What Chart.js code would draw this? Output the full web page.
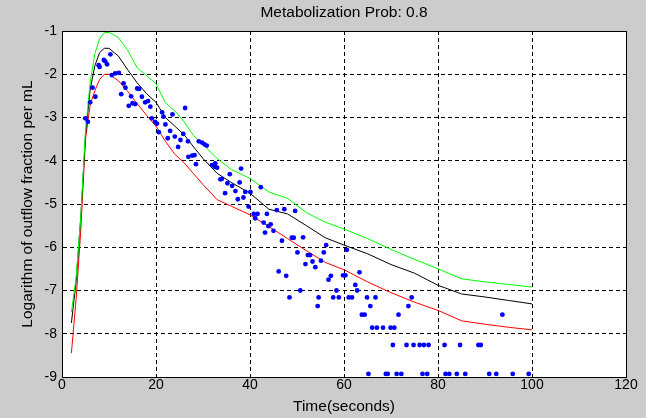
<!DOCTYPE html>
<html>
<head>
<meta charset="utf-8">
<title>Metabolization Prob: 0.8</title>
<script src="https://cdn.jsdelivr.net/npm/chart.js@4.4.1/dist/chart.umd.min.js"></script>
<style>
  html, body { margin:0; padding:0; background:#cccccc; }
  #wrap { width:646px; height:418px; }
</style>
</head>
<body>
<div id="wrap"><canvas id="chart" width="646" height="418"></canvas></div>
<script>
// ---------- data ----------
const xTicks = [0, 20, 40, 60, 80, 100, 120];
const yTicks = [-1, -2, -3, -4, -5, -6, -7, -8, -9];

// simulated curves (upper / mean / lower)
const simTime  = [2, 3, 4, 5, 6, 7, 8, 9, 10, 12, 14, 16, 18, 20, 22, 24, 26, 28, 30, 33, 36, 40, 44, 48, 52, 56, 60, 65, 70, 75, 80, 85, 90, 95, 100];
const upperLog = [-7.5, -6.7, -5.3, -3.3, -2.18, -1.52, -1.18, -1.04, -1.03, -1.15, -1.45, -1.85, -2.03, -2.22, -2.66, -2.85, -3.1, -3.42, -3.62, -3.95, -4.2, -4.41, -4.72, -4.87, -5.2, -5.42, -5.58, -5.8, -6.05, -6.28, -6.5, -6.73, -6.8, -6.86, -6.92];
const meanLog  = [-7.75, -6.8, -5.3, -3.4, -2.35, -1.8, -1.5, -1.4, -1.4, -1.58, -1.9, -2.2, -2.45, -2.65, -3.0, -3.2, -3.4, -3.68, -3.95, -4.29, -4.5, -4.75, -5.12, -5.23, -5.5, -5.78, -5.95, -6.15, -6.4, -6.6, -6.88, -7.08, -7.15, -7.23, -7.31];
const lowerLog = [-8.45, -7.2, -5.6, -3.5, -2.7, -2.38, -2.12, -2.0, -2.0, -2.15, -2.4, -2.68, -2.95, -3.2, -3.55, -3.85, -4.05, -4.3, -4.55, -4.9, -5.05, -5.25, -5.52, -5.8, -6.08, -6.35, -6.52, -6.8, -7.05, -7.27, -7.46, -7.7, -7.78, -7.85, -7.91];

// measured outflow (blue dots)
const obsTime = [
  4.96, 5.5, 6.0, 6.5, 7.1, 7.8, 8.0, 8.9, 9.2, 9.6, 10.3, 10.6, 11.3, 12.1, 12.6, 13.1, 13.5, 14.2, 14.7, 15.0,
  15.6, 16.0, 16.4, 17.0, 17.7, 18.3, 18.8, 19.1, 19.8, 20.2, 20.6, 21.3, 21.6, 22.0, 22.5, 23.0, 23.5, 24.0, 24.7, 25.2,
  25.8, 26.2, 26.8, 26.9, 27.7, 28.2, 28.5, 29.1, 29.8, 30.3, 30.8, 31.9, 32.5, 32.6, 33.0, 33.7, 34.0, 34.7, 35.2, 35.7,
  36.2, 36.9, 37.4, 37.8, 38.1, 38.6, 39.0, 39.7, 40.1, 40.8, 41.1, 41.6, 42.3, 42.9, 43.2, 43.6, 43.9, 44.4, 45.0, 45.7,
  46.1, 46.8, 47.3, 47.7, 48.9, 49.3, 49.6, 50.1, 51.3, 51.8, 52.3, 52.8, 53.3, 53.9, 55.1, 55.7, 56.2, 56.7, 57.2, 59.8,
  60.3, 60.6, 62.4, 63.3,
  48.4, 54.6, 57.7, 58.9, 61.0, 61.7, 64.9, 66.7, 74.4,
  50.7, 58.4, 62.8,
  54.4, 65.6, 73.7,
  63.8, 64.4, 71.6, 93.7,
  66.0, 67.0, 68.3, 69.9, 70.7,
  70.4, 73.3, 74.8, 76.1, 77.0, 78.0, 81.4, 84.7, 88.6, 89.1,
  65.2, 68.9, 69.3, 71.2, 72.2, 76.7, 77.7, 81.6, 82.4, 84.0, 85.8, 90.9, 92.4, 95.9, 99.3
];
const obsLog = [
  -3.02, -3.1, -2.65, -2.31, -2.52, -1.79, -1.83, -1.67, -1.7, -1.77, -1.54, -2.02, -1.98, -1.97, -2.46, -2.21, -2.31, -2.73, -2.51, -2.67,
  -2.69, -2.33, -2.34, -2.52, -2.65, -2.62, -2.75, -3.02, -3.1, -3.14, -3.34, -2.88, -2.98, -3.16, -3.48, -3.31, -2.93, -3.44, -3.68, -3.52,
  -3.38, -2.78, -3.55, -3.91, -3.88, -3.87, -4.08, -3.55, -3.58, -3.62, -3.65, -4.1, -4.14, -4.06, -4.16, -4.43, -4.42, -4.75, -4.52, -4.31,
  -4.58, -4.7, -4.89, -4.5, -4.18, -4.85, -4.72, -5.06, -4.72, -5.23, -5.33, -5.23, -4.61, -5.43, -5.66, -5.23, -5.51, -5.47, -5.62, -5.14,
  -6.56, -5.85, -5.12, -6.66, -5.78, -5.78, -5.16, -6.12, -5.77, -6.39, -6.18, -6.18, -6.33, -6.46, -6.31, -6.12, -5.95, -6.75, -6.66, -6.65,
  -6.65, -6.06, -6.87, -6.58,
  -7.16, -7.16, -7.16, -7.16, -7.16, -7.16, -7.16, -7.16, -7.16,
  -7.0, -7.0, -7.0,
  -7.36, -7.36, -7.36,
  -7.56, -7.56, -7.56, -7.56,
  -7.86, -7.86, -7.86, -7.86, -7.86,
  -8.26, -8.26, -8.26, -8.26, -8.26, -8.26, -8.26, -8.26, -8.26, -8.26,
  -8.93, -8.93, -8.93, -8.93, -8.93, -8.93, -8.93, -8.93, -8.93, -8.93, -8.93, -8.93, -8.93, -8.93, -8.93
];

// ---------- helpers ----------
function pts(xs, ys){ return xs.map((x, i) => ({x: x, y: ys[i]})); }
function curve(ys, color){
  return { data: pts(simTime, ys), showLine: true, borderColor: color, borderWidth: 1,
           pointRadius: 0, tension: 0, fill: false };
}

// grey figure, white axes box with black frame
const frame = {
  id: 'frame',
  beforeDraw(c){
    const {ctx, chartArea: a} = c;
    ctx.save();
    ctx.fillStyle = '#cccccc';
    ctx.fillRect(0, 0, c.width, c.height);
    ctx.fillStyle = '#ffffff';
    ctx.fillRect(a.left, a.top, a.right - a.left, a.bottom - a.top);
    ctx.restore();
  },
  beforeDatasetsDraw(c){
    const {ctx, chartArea: a} = c;
    ctx.save();
    ctx.strokeStyle = '#000';
    ctx.lineWidth = 1;
    ctx.strokeRect(Math.round(a.left) + 0.5, Math.round(a.top) + 0.5,
                   Math.round(a.right - a.left), Math.round(a.bottom - a.top));
    ctx.restore();
  }
};

Chart.defaults.font.family = '"Liberation Sans", Arial, Helvetica, sans-serif';
Chart.defaults.font.size = 14;
Chart.defaults.color = '#000';

const ctx = document.getElementById('chart').getContext('2d');
new Chart(ctx, {
  type: 'scatter',
  data: {
    datasets: [
      { data: pts(obsTime, obsLog), showLine: false, pointRadius: 2.4, pointBorderWidth: 0,
        pointBackgroundColor: '#0000ff', clip: false },
      curve(upperLog, '#00ff00'),
      curve(meanLog, '#000000'),
      curve(lowerLog, '#ff0000')
    ]
  },
  options: {
    responsive: false,
    animation: false,
    layout: { padding: { left: 0, right: 20, top: 0, bottom: 0 } },
    plugins: {
      legend: { display: false },
      tooltip: { enabled: false },
      title: { display: true, text: 'Metabolization Prob: 0.8', fullSize: false,
               font: { size: 15.5, weight: 'normal', lineHeight: 1.2 }, color: '#000',
               padding: { top: 3, bottom: 9.4 } }
    },
    scales: {
      x: {
        type: 'linear', min: 0, max: 120,
        afterBuildTicks: s => { s.ticks = xTicks.map(v => ({value: v})); },
        afterFit: s => { s.height = 41; },
        ticks: { padding: 0, font: { size: 14, lineHeight: 1.2 } },
        grid: { color: '#000', drawTicks: false, lineWidth: 1 },
        border: { color: '#000', dash: [4, 3] },
        title: { display: true, text: 'Time(seconds)', font: { size: 15.5, lineHeight: 1.2 }, padding: { top: 0, bottom: 1.5 } }
      },
      y: {
        type: 'linear', min: -9, max: -1,
        afterBuildTicks: s => { s.ticks = yTicks.map(v => ({value: v})); },
        afterFit: s => { s.width = 62; },
        ticks: { padding: 5, font: { size: 14 } },
        grid: { color: '#000', drawTicks: false, lineWidth: 1 },
        border: { color: '#000', dash: [4, 3] },
        title: { display: true, text: 'Logarithm of outflow fraction per mL', font: { size: 15.5, lineHeight: 1.2 }, padding: { top: 18 } }
      }
    }
  },
  plugins: [frame]
});
</script>
</body>
</html>
